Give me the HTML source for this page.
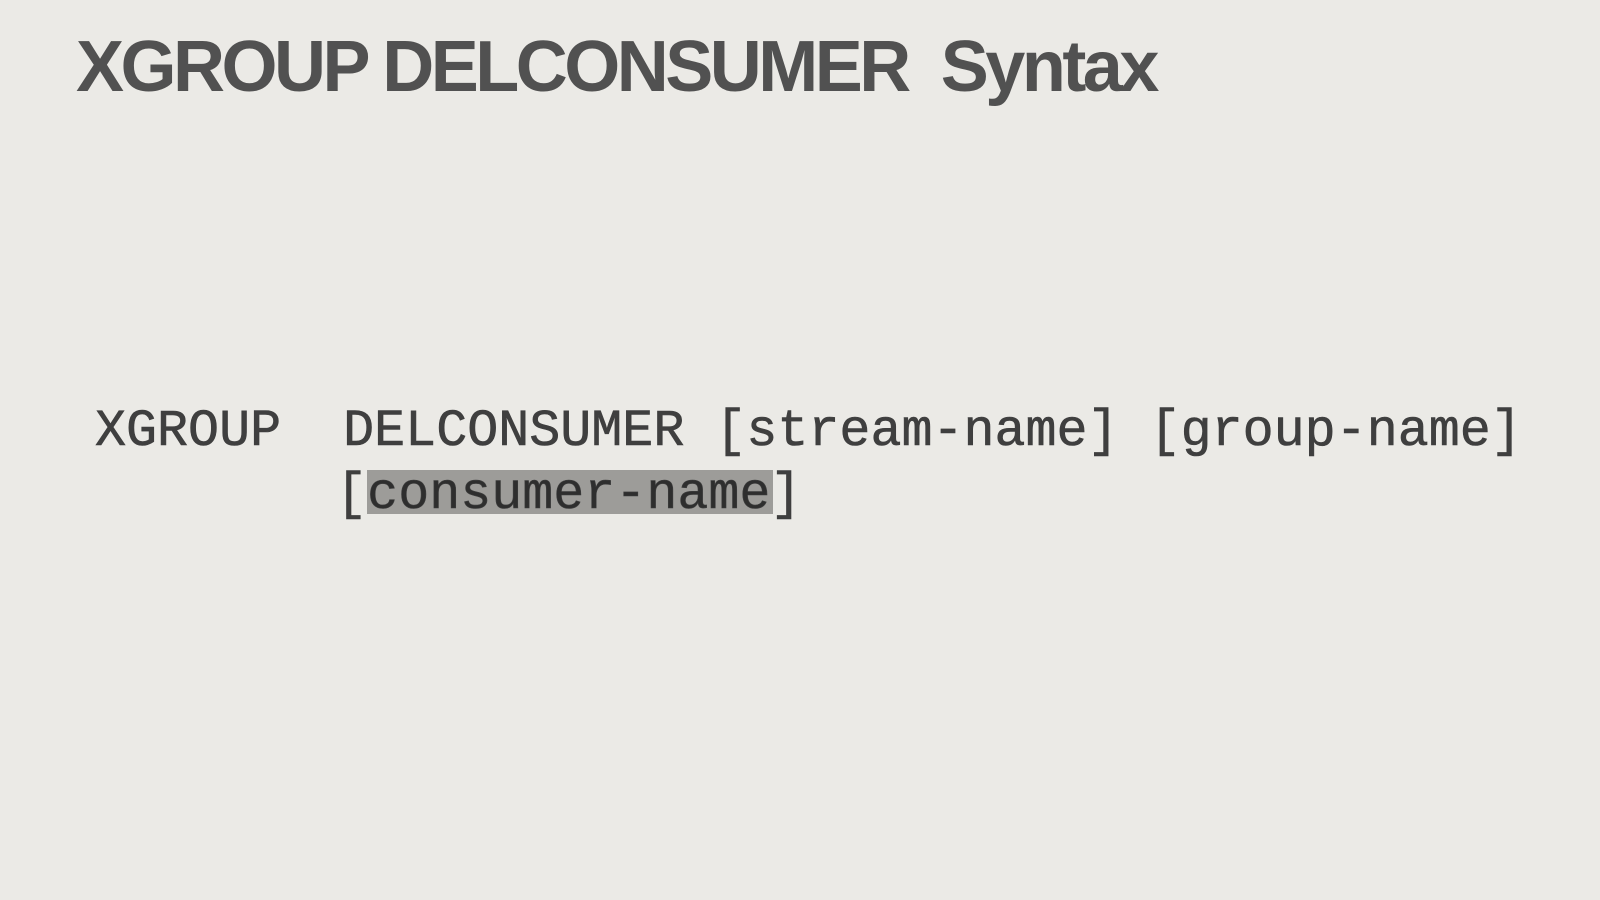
<!DOCTYPE html>
<html><head><meta charset="utf-8"><style>
html,body{margin:0;padding:0}
body{width:1600px;height:900px;background:#ebeae6;position:relative;overflow:hidden}
.t{position:absolute;left:76px;top:22px;font-family:"Liberation Sans",sans-serif;font-weight:bold;font-size:72px;color:#515151;letter-spacing:-3.5px;white-space:pre;line-height:90px}
.m{position:absolute;left:95px;font-family:"Liberation Mono",monospace;font-size:51.7px;color:#3f3f3f;white-space:pre;line-height:62px;-webkit-text-stroke:0.6px #3f3f3f}
.hl{position:absolute;left:367px;top:470px;width:406px;height:44px;background:#9d9c99}
.h{color:#2e2e2e}
</style></head><body>
<div class="t">XGROUP DELCONSUMER  Syntax</div>
<div class="hl"></div>
<div class="m" style="top:401px">XGROUP  DELCONSUMER [stream-name] [group-name]</div>
<div class="m" style="top:464px;left:88px">        [<span class="h">consumer-name</span>]</div>
</body></html>
